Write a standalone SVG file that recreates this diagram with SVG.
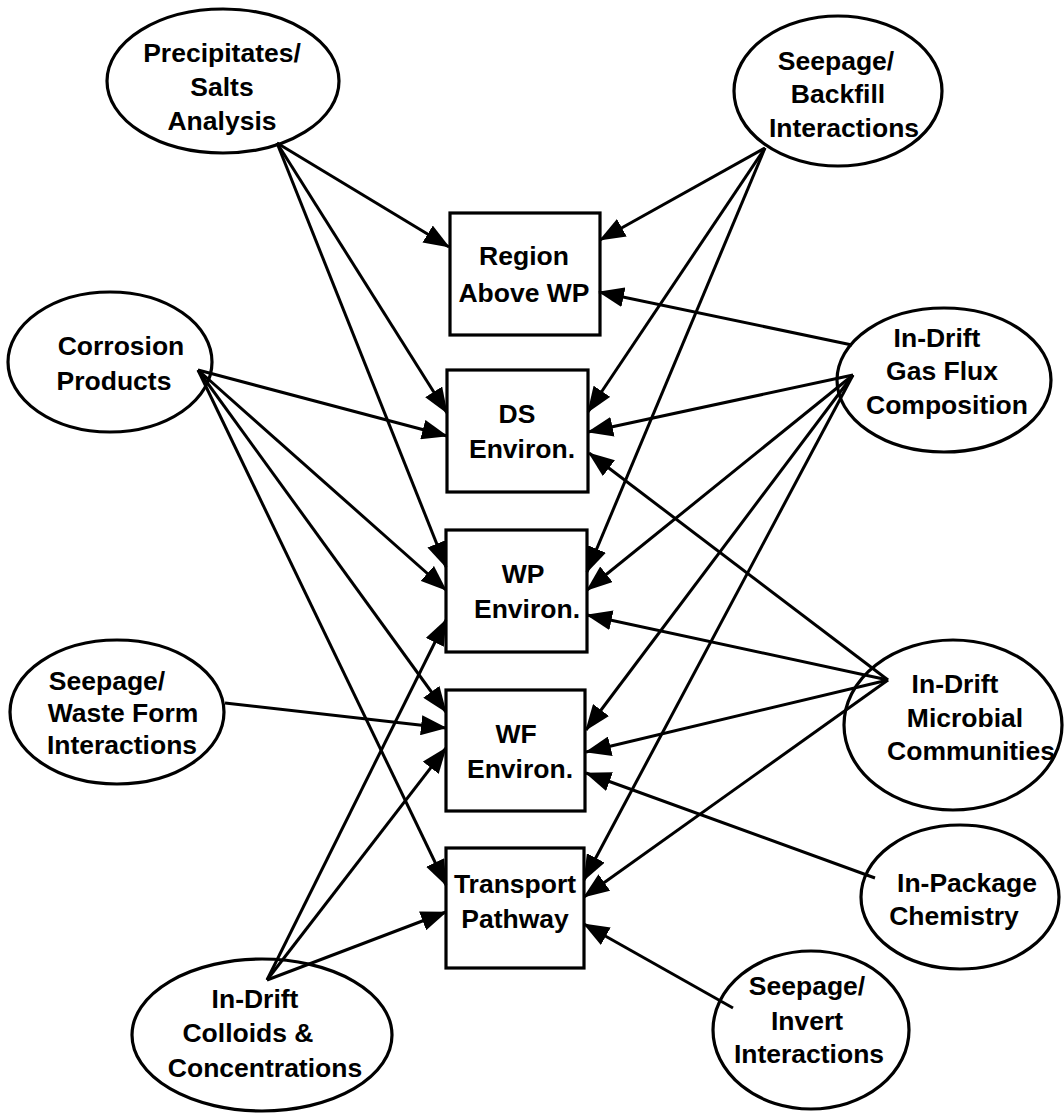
<svg xmlns="http://www.w3.org/2000/svg" width="1064" height="1113" viewBox="0 0 1064 1113">
<style>
.n ellipse, .n rect { fill: #fff; stroke: #000; stroke-width: 3.2; }
text { font-family: "Liberation Sans", Arial, sans-serif; font-weight: bold; font-size: 26.5px; fill: #000; text-anchor: middle; }
.e line { stroke: #000; stroke-width: 3; marker-end: url(#ah); }
</style>
<defs>
<marker id="ah" markerUnits="userSpaceOnUse" markerWidth="26" markerHeight="20" refX="25" refY="10" orient="auto">
<path d="M0,0 L26,10 L0,20 Z" fill="#000"/>
</marker>
</defs>
<rect width="1064" height="1113" fill="#fff"/>
<g id="n-precip" class="n">
<ellipse cx="223" cy="81" rx="116" ry="72"/>
<text x="222" y="62">Precipitates/</text>
<text x="222" y="96">Salts</text>
<text x="222" y="130">Analysis</text>
</g>
<g id="n-backfill" class="n">
<ellipse cx="838" cy="91" rx="104" ry="75"/>
<text x="836" y="70">Seepage/</text>
<text x="838" y="103">Backfill</text>
<text x="844" y="137">Interactions</text>
</g>
<g id="n-corrosion" class="n">
<ellipse cx="110" cy="362" rx="102" ry="70"/>
<text x="121" y="355">Corrosion</text>
<text x="114" y="390">Products</text>
</g>
<g id="n-gasflux" class="n">
<ellipse cx="944" cy="380" rx="107" ry="72"/>
<text x="937" y="347">In-Drift</text>
<text x="942" y="380">Gas Flux</text>
<text x="947" y="414">Composition</text>
</g>
<g id="n-wasteform" class="n">
<ellipse cx="117" cy="712" rx="107" ry="72"/>
<text x="107" y="690">Seepage/</text>
<text x="123" y="722">Waste Form</text>
<text x="122" y="754">Interactions</text>
</g>
<g id="n-microbial" class="n">
<ellipse cx="953" cy="725" rx="109" ry="85"/>
<text x="955" y="693">In-Drift</text>
<text x="965" y="727">Microbial</text>
<text x="971" y="760">Communities</text>
</g>
<g id="n-colloids" class="n">
<ellipse cx="262" cy="1035" rx="130" ry="76"/>
<text x="255" y="1008">In-Drift</text>
<text x="248" y="1042">Colloids &amp;</text>
<text x="265" y="1077">Concentrations</text>
</g>
<g id="n-inpackage" class="n">
<ellipse cx="960" cy="897" rx="99" ry="72"/>
<text x="967" y="892">In-Package</text>
<text x="954" y="925">Chemistry</text>
</g>
<g id="n-invert" class="n">
<ellipse cx="811" cy="1030" rx="98" ry="79"/>
<text x="807" y="995">Seepage/</text>
<text x="807" y="1030">Invert</text>
<text x="809" y="1063">Interactions</text>
</g>
<g id="n-region" class="n">
<rect x="450" y="213" width="150" height="122"/>
<text x="524" y="265">Region</text>
<text x="524" y="302">Above WP</text>
</g>
<g id="n-ds" class="n">
<rect x="447" y="370" width="141" height="122"/>
<text x="517" y="423">DS</text>
<text x="522" y="458">Environ.</text>
</g>
<g id="n-wp" class="n">
<rect x="446" y="530" width="141" height="122"/>
<text x="523" y="583">WP</text>
<text x="527" y="618">Environ.</text>
</g>
<g id="n-wf" class="n">
<rect x="446" y="690" width="139" height="121"/>
<text x="516" y="743">WF</text>
<text x="520" y="778">Environ.</text>
</g>
<g id="n-transport" class="n">
<rect x="446" y="848" width="138" height="120"/>
<text x="515" y="893">Transport</text>
<text x="515" y="928">Pathway</text>
</g>
<g id="connectors" class="e">
<line x1="277" y1="143" x2="449" y2="247"/>
<line x1="277" y1="143" x2="447" y2="413"/>
<line x1="277" y1="143" x2="446" y2="567"/>
<line x1="198" y1="370" x2="447" y2="436"/>
<line x1="198" y1="370" x2="446" y2="590"/>
<line x1="198" y1="370" x2="446" y2="712"/>
<line x1="198" y1="370" x2="446" y2="885"/>
<line x1="225" y1="703" x2="446" y2="728"/>
<line x1="267" y1="980" x2="446" y2="620"/>
<line x1="267" y1="980" x2="446" y2="748"/>
<line x1="267" y1="980" x2="446" y2="912"/>
<line x1="765" y1="148" x2="600" y2="240"/>
<line x1="765" y1="148" x2="588" y2="412"/>
<line x1="765" y1="148" x2="587" y2="572"/>
<line x1="852" y1="345" x2="599" y2="292"/>
<line x1="853" y1="375" x2="588" y2="432"/>
<line x1="853" y1="375" x2="587" y2="590"/>
<line x1="853" y1="375" x2="586" y2="730"/>
<line x1="853" y1="375" x2="584" y2="880"/>
<line x1="888" y1="680" x2="589" y2="453"/>
<line x1="888" y1="680" x2="587" y2="615"/>
<line x1="888" y1="680" x2="586" y2="752"/>
<line x1="888" y1="680" x2="584" y2="897"/>
<line x1="875" y1="878" x2="586" y2="773"/>
<line x1="733" y1="1008" x2="584" y2="924"/>
</g>
</svg>
